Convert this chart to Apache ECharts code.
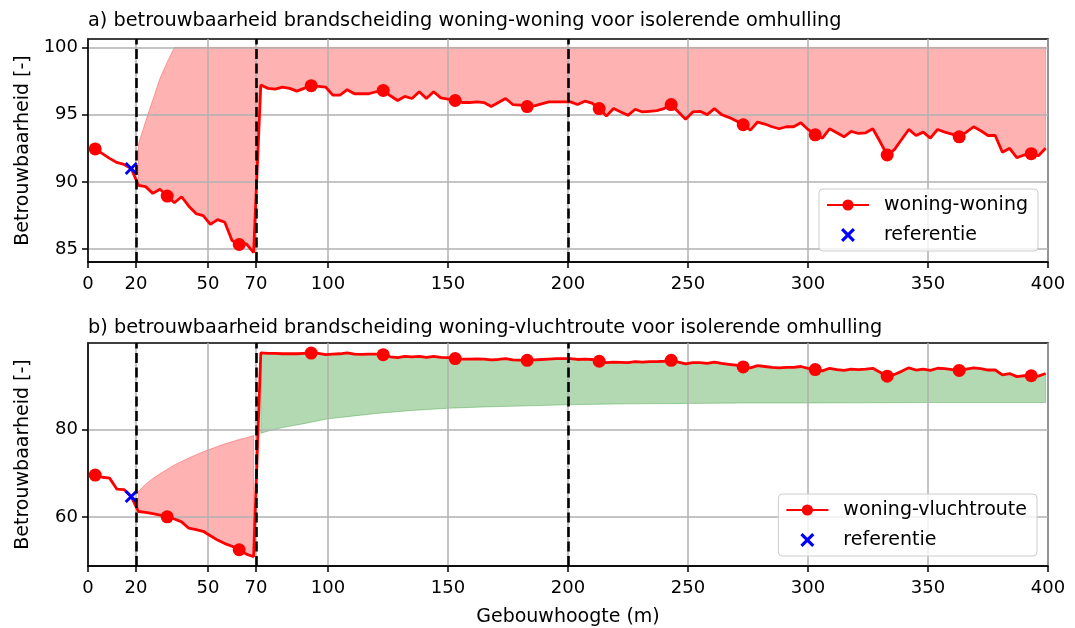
<!DOCTYPE html>
<html>
<head>
<meta charset="utf-8">
<script src="https://cdn.jsdelivr.net/npm/echarts@6/dist/echarts.min.js"></script>
<style>
  html, body { margin: 0; padding: 0; background: #ffffff; }
  #chart { width: 1075px; height: 628px; }
</style>
</head>
<body>
<div id="chart"></div>
<script>
// Building heights (m) at which the reliability was evaluated
const heights = [
  3, 6, 9, 12, 15, 18, 21, 24, 27, 30, 33, 36, 39, 42, 45, 48, 51, 54, 57, 60,
  63, 66, 69, 72, 75, 78, 81, 84, 87, 90, 93, 96, 99, 102, 105, 108, 111, 114, 117, 120,
  123, 126, 129, 132, 135, 138, 141, 144, 147, 150, 153, 156, 159, 162, 165, 168, 171, 174, 177, 180,
  183, 186, 189, 192, 195, 198, 201, 204, 207, 210, 213, 216, 219, 222, 225, 228, 231, 234, 237, 240,
  243, 246, 249, 252, 255, 258, 261, 264, 267, 270, 273, 276, 279, 282, 285, 288, 291, 294, 297, 300,
  303, 306, 309, 312, 315, 318, 321, 324, 327, 330, 333, 336, 339, 342, 345, 348, 351, 354, 357, 360,
  363, 366, 369, 372, 375, 378, 381, 384, 387, 390, 393, 396, 399
];

// a) reliability of the fire separation between dwellings
const woningWoning = [
  92.45, 92.1, 91.75, 91.45, 91.3, 91.0, 89.75, 89.65, 89.15, 89.45, 88.95, 88.45, 88.9, 88.2, 87.65, 87.5, 86.85, 87.2, 87.0, 85.65,
  85.35, 85.4, 84.75, 97.2, 96.95, 96.9, 97.05, 96.95, 96.75, 96.95, 97.15, 97.1, 97.05, 96.45, 96.45, 96.85, 96.55, 96.55, 96.55, 96.7,
  96.8, 96.4, 96.05, 96.35, 96.2, 96.7, 96.2, 96.7, 96.25, 96.15, 96.05, 95.9, 95.9, 95.95, 95.9, 95.6, 95.9, 96.2, 95.75, 95.7,
  95.6, 95.65, 95.8, 95.95, 95.95, 95.95, 95.95, 95.75, 96.0, 95.85, 95.45, 94.9, 95.45, 95.2, 94.95, 95.4, 95.2, 95.25, 95.3, 95.45,
  95.75, 95.2, 94.65, 95.2, 95.25, 95.0, 95.45, 95.0, 94.8, 94.55, 94.25, 93.85, 94.45, 94.3, 94.1, 93.95, 94.1, 94.1, 94.4, 93.9,
  93.5, 93.25, 93.95, 93.65, 93.35, 93.75, 93.6, 93.65, 93.95, 93.0, 92.0, 92.4, 93.15, 93.9, 93.45, 93.7, 93.25, 93.9, 93.7, 93.55,
  93.35, 93.7, 94.1, 93.8, 93.45, 93.45, 92.2, 92.5, 91.8, 92.0, 92.1, 91.95, 92.5
];

// b) reliability of the fire separation between dwelling and escape route
const woningVluchtroute = [
  69.6, 69.1, 68.9, 66.4, 66.3, 64.7, 61.3, 61.1, 60.8, 60.5, 60.1, 59.6, 58.95, 57.5, 57.2, 56.8, 55.8, 54.8, 54.0, 53.4,
  52.6, 51.6, 51.0, 97.4, 97.3, 97.3, 97.2, 97.25, 97.2, 97.3, 97.35, 97.3, 97.0, 97.1, 97.2, 97.4, 97.1, 97.05, 97.1, 97.1,
  97.0, 96.5, 96.3, 96.6, 96.5, 96.6, 96.4, 96.6, 96.4, 96.3, 96.1, 96.0, 96.0, 96.05, 96.0, 95.8, 95.9, 96.1, 95.8, 95.75,
  95.7, 95.8, 95.9, 96.0, 96.1, 96.1, 96.1, 95.9, 96.0, 95.9, 95.5, 95.2, 95.3, 95.25, 95.2, 95.4, 95.3, 95.4, 95.4, 95.5,
  95.7, 95.3, 94.9, 95.2, 95.2, 95.0, 95.3, 95.0, 94.8, 94.6, 94.2, 94.0, 94.5, 94.3, 94.1, 94.0, 94.1, 94.1, 94.3, 93.9,
  93.6, 93.3, 93.9, 93.6, 93.4, 93.7, 93.6, 93.7, 93.9, 93.0, 92.1, 92.5, 93.2, 94.0, 93.5, 93.7, 93.4, 93.9, 93.8, 93.6,
  93.4, 93.7, 94.0, 93.8, 93.5, 93.5, 92.4, 92.7, 92.0, 92.2, 92.2, 92.1, 92.7
];

// Reference design point
const refHeight = 18;
const refWoningWoning = 91.0;
const refWoningVluchtroute = 64.7;

// Reference reliability curve for a) (capped at 100)
const refCurveAHeights = [21, 24, 27, 30, 33, 36, 399];
const refCurveAValues  = [92.8, 94.5, 96.1, 97.7, 98.9, 100, 100];

// Reference reliability curve for b), part below 70 m
const refCurveBLowHeights = [21, 24, 27, 30, 33, 36, 39, 42, 45, 48, 51, 54, 57, 60, 63, 66, 69];
const refCurveBLowValues  = [65.9, 67.5, 68.8, 69.9, 70.9, 71.9, 72.7, 73.5, 74.2, 74.9, 75.5, 76.1, 76.7, 77.2, 77.7, 78.1, 78.6];

// Reference reliability curve for b), part above 70 m
const refCurveBHighHeights = [72, 75, 81, 90, 100, 110, 120, 135, 150, 165, 180, 200, 225, 250, 275, 300, 325, 350, 375, 399];
const refCurveBHighValues  = [79.1, 79.6, 80.4, 81.3, 82.4, 83.0, 83.6, 84.3, 84.8, 85.1, 85.3, 85.6, 85.8, 85.9, 86.0, 86.0, 86.05, 86.1, 86.1, 86.1];

// Height boundaries (m)
const boundaries = [20, 70, 200];

// Axis ticks
const xTicks = [0, 20, 50, 70, 100, 150, 200, 250, 300, 350, 400];
const yTicksA = [85, 90, 95, 100];
const yTicksB = [60, 80];

const FONT = 'DejaVu Sans';
const RED = '#ff0000';
const BLUE = '#0000ff';

function pairs(xArr, yArr, from, to) {
  const out = [];
  for (let i = 0; i < xArr.length; i++) {
    if (from === undefined || (xArr[i] >= from && xArr[i] <= to)) out.push([xArr[i], yArr[i]]);
  }
  return out;
}

// Filled band between two polylines, mapped through the axis scales
function band(idx, pathA, pathB, fill, edge) {
  return {
    type: 'custom',
    xAxisIndex: idx, yAxisIndex: idx,
    z: 1, silent: true,
    data: [pathA[0]],
    renderItem: function (params, api) {
      const pts = pathA.concat(pathB.slice().reverse()).map(function (p) { return api.coord(p); });
      return {
        type: 'polygon',
        shape: { points: pts },
        style: { fill: fill, stroke: edge, lineWidth: 1 }
      };
    }
  };
}

function markerSize(v, p) { return p.dataIndex % 10 === 0 ? 13 : 0; }

// Solid "x" marker outline
const crossPath = 'path://M0,1.6L1.6,0L5,3.4L8.4,0L10,1.6L6.6,5L10,8.4L8.4,10L5,6.6L1.6,10L0,8.4L3.4,5Z';

function xAxis(idx, withName) {
  return {
    type: 'value', gridIndex: idx, min: 0, max: 400, z: 1.5,
    name: withName ? 'Gebouwhoogte (m)' : '',
    nameLocation: 'middle', nameGap: 42,
    nameTextStyle: { fontSize: 19, fontFamily: FONT, color: '#000' },
    axisLine: { show: true, onZero: false, lineStyle: { color: '#000', width: 1.5 } },
    axisTick: { show: true, inside: false, length: 6, customValues: xTicks, lineStyle: { color: '#000', width: 1.5 } },
    axisLabel: { show: true, customValues: xTicks, margin: 13, fontSize: 18, fontFamily: FONT, color: '#000' },
    splitLine: { show: true, lineStyle: { color: '#b0b0b0', width: 1.5 } }
  };
}

function yAxis(idx, min, max, ticks) {
  return {
    type: 'value', gridIndex: idx, min: min, max: max, z: 1.5,
    name: 'Betrouwbaarheid [-]',
    nameLocation: 'middle', nameGap: 55,
    nameTextStyle: { fontSize: 19, fontFamily: FONT, color: '#000' },
    axisLine: { show: true, onZero: false, lineStyle: { color: '#000', width: 1.5 } },
    axisTick: { show: true, inside: false, length: 6, customValues: ticks, lineStyle: { color: '#000', width: 1.5 } },
    axisLabel: { show: true, customValues: ticks, margin: 10, fontSize: 18, fontFamily: FONT, color: '#000' },
    splitLine: { show: true, lineStyle: { color: '#b0b0b0', width: 1.5 } }
  };
}

function dashedBoundaries() {
  return {
    silent: true,
    symbol: ['none', 'none'],
    label: { show: false },
    lineStyle: { color: '#000000', type: [10, 4.5], width: 2.6 },
    data: boundaries.map(function (b) { return { xAxis: b }; })
  };
}

function legend(names, top, right) {
  return {
    data: names, orient: 'vertical', right: right, top: top,
    itemWidth: 42, itemHeight: 14, itemGap: 8,
    padding: [5, 10, 5, 7],
    backgroundColor: 'rgba(255,255,255,0.8)',
    borderColor: '#cccccc', borderWidth: 1, borderRadius: 4,
    selectedMode: false,
    textStyle: { fontSize: 19, fontFamily: FONT, color: '#000', lineHeight: 22, padding: [0, 0, 0, 10] }
  };
}

const lineA = pairs(heights, woningWoning);
const lineB = pairs(heights, woningVluchtroute);

const option = {
  animation: false,
  backgroundColor: '#ffffff',
  title: [
    { text: 'a) betrouwbaarheid brandscheiding woning-woning voor isolerende omhulling',
      left: 88, top: 11, padding: 0,
      textStyle: { fontSize: 19.3, fontWeight: 'normal', fontFamily: FONT, color: '#000' } },
    { text: 'b) betrouwbaarheid brandscheiding woning-vluchtroute voor isolerende omhulling',
      left: 88, top: 318, padding: 0,
      textStyle: { fontSize: 19.3, fontWeight: 'normal', fontFamily: FONT, color: '#000' } }
  ],
  grid: [
    { left: 88, top: 39, width: 960, height: 223, show: true, borderColor: '#000', borderWidth: 1.5, backgroundColor: 'transparent' },
    { left: 88, top: 343, width: 960, height: 224, show: true, borderColor: '#000', borderWidth: 1.5, backgroundColor: 'transparent' }
  ],
  xAxis: [xAxis(0, false), xAxis(1, true)],
  yAxis: [yAxis(0, 84.05, 100.62, yTicksA), yAxis(1, 48.9, 99.65, yTicksB)],
  legend: [
    legend(['woning-woning', 'referentie'], 189, 37),
    legend(['woning-vluchtroute', 'referentie'], 494, 38)
  ],
  series: [
    band(0, pairs(heights, woningWoning, 20, 400), pairs(refCurveAHeights, refCurveAValues),
         'rgba(255,0,0,0.3)', 'rgba(255,0,0,0.3)'),
    band(1, pairs(heights, woningVluchtroute, 20, 70), pairs(refCurveBLowHeights, refCurveBLowValues),
         'rgba(255,0,0,0.3)', 'rgba(255,0,0,0.3)'),
    band(1, pairs(heights, woningVluchtroute, 70, 400), pairs(refCurveBHighHeights, refCurveBHighValues),
         'rgba(0,128,0,0.3)', 'rgba(0,128,0,0.3)'),
    {
      type: 'line', name: 'woning-woning', xAxisIndex: 0, yAxisIndex: 0, z: 3,
      data: lineA, symbol: 'circle', symbolSize: markerSize, showAllSymbol: true,
      lineStyle: { color: RED, width: 2.8 }, itemStyle: { color: RED },
      markLine: dashedBoundaries()
    },
    {
      type: 'line', name: 'woning-vluchtroute', xAxisIndex: 1, yAxisIndex: 1, z: 3,
      data: lineB, symbol: 'circle', symbolSize: markerSize, showAllSymbol: true,
      lineStyle: { color: RED, width: 2.8 }, itemStyle: { color: RED },
      markLine: dashedBoundaries()
    },
    {
      type: 'scatter', name: 'referentie', xAxisIndex: 0, yAxisIndex: 0, z: 4,
      data: [[refHeight, refWoningWoning]], symbol: crossPath, symbolSize: 13,
      itemStyle: { color: BLUE, opacity: 1 }
    },
    {
      type: 'scatter', name: 'referentie', xAxisIndex: 1, yAxisIndex: 1, z: 4,
      data: [[refHeight, refWoningVluchtroute]], symbol: crossPath, symbolSize: 13,
      itemStyle: { color: BLUE, opacity: 1 }
    }
  ]
};

const chart = echarts.init(document.getElementById('chart'), null, { renderer: 'canvas' });
chart.setOption(option);
</script>
</body>
</html>
